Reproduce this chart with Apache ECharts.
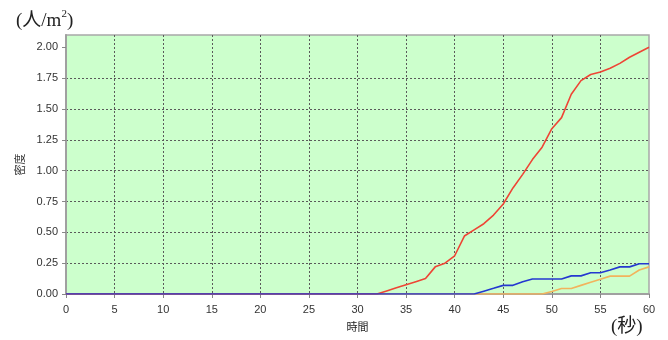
<!DOCTYPE html>
<html>
<head>
<meta charset="utf-8">
<script src="https://cdn.jsdelivr.net/npm/echarts@6/dist/echarts.min.js"></script>
<style>
  html, body { margin: 0; padding: 0; background: #ffffff; }
  #chart { width: 668px; height: 340px; }
</style>
</head>
<body>
<div id="chart"></div>
<script>
// Elapsed time in seconds (x axis)
const seconds = [
  0, 1, 2, 3, 4, 5, 6, 7, 8, 9, 10, 11, 12, 13, 14, 15, 16, 17, 18, 19, 20,
  21, 22, 23, 24, 25, 26, 27, 28, 29, 30, 31, 32, 33, 34, 35, 36, 37, 38, 39, 40,
  41, 42, 43, 44, 45, 46, 47, 48, 49, 50, 51, 52, 53, 54, 55, 56, 57, 58, 59, 60
];

// Crowd density (persons / m²) per second, three measuring areas
const densityRed = [
  0, 0, 0, 0, 0, 0, 0, 0, 0, 0, 0, 0, 0, 0, 0, 0, 0, 0, 0, 0, 0,
  0, 0, 0, 0, 0, 0, 0, 0, 0, 0, 0, 0, 0.025, 0.05, 0.075, 0.1, 0.125, 0.22, 0.25, 0.31,
  0.47, 0.52, 0.57, 0.64, 0.73, 0.86, 0.97, 1.09, 1.19, 1.34, 1.43, 1.62, 1.73, 1.78, 1.80, 1.83, 1.87, 1.92, 1.96, 2.00
];
const densityBlue = [
  0, 0, 0, 0, 0, 0, 0, 0, 0, 0, 0, 0, 0, 0, 0, 0, 0, 0, 0, 0, 0,
  0, 0, 0, 0, 0, 0, 0, 0, 0, 0, 0, 0, 0, 0, 0, 0, 0, 0, 0, 0,
  0, 0, 0.023, 0.046, 0.07, 0.07, 0.1, 0.122, 0.122, 0.122, 0.122, 0.147, 0.147, 0.172, 0.172, 0.195, 0.22, 0.22, 0.245, 0.245
];
const densityOrange = [
  0, 0, 0, 0, 0, 0, 0, 0, 0, 0, 0, 0, 0, 0, 0, 0, 0, 0, 0, 0, 0,
  0, 0, 0, 0, 0, 0, 0, 0, 0, 0, 0, 0, 0, 0, 0, 0, 0, 0, 0, 0,
  0, 0, 0, 0, 0, 0, 0, 0, 0, 0.02, 0.045, 0.045, 0.07, 0.095, 0.12, 0.145, 0.145, 0.145, 0.195, 0.22
];

// Axis tick values
const xTicks = [0, 5, 10, 15, 20, 25, 30, 35, 40, 45, 50, 55, 60];
const yTicks = [0, 0.25, 0.5, 0.75, 1.0, 1.25, 1.5, 1.75, 2.0];

const pairs = (vals) => seconds.map((t, i) => [t, vals[i]]);

const chart = echarts.init(document.getElementById('chart'), null, { renderer: 'canvas' });

const labelFont = { color: '#333333', fontSize: 11, fontFamily: 'Liberation Sans, Arial, sans-serif' };
const gridDash = { color: '#5a5a5a', width: 1, type: [2, 2] };
const axisGray = '#a0a0a0';
const serif = 'Liberation Serif, Noto Sans CJK JP, serif';

chart.setOption({
  animation: false,
  backgroundColor: '#ffffff',
  title: [
    {
      left: 11, top: 4,
      text: '{a|(人/m}{b|2}{a|)}',
      textStyle: {
        fontWeight: 'normal',
        rich: {
          a: { fontSize: 19, fontWeight: 'normal', fontFamily: serif, color: '#222', lineHeight: 24 },
          b: { fontSize: 11, fontWeight: 'normal', fontFamily: serif, color: '#222', verticalAlign: 'top', lineHeight: 24, padding: [0, 0, 12, 0] }
        }
      }
    },
    {
      left: 606, top: 313,
      text: '(秒)',
      textStyle: { fontSize: 19, fontWeight: 'normal', fontFamily: serif, color: '#222' }
    }
  ],
  grid: {
    left: 66, right: 19, top: 35, bottom: 46,
    show: true,
    backgroundColor: '#ccffcc',
    borderColor: '#a8a8a8',
    borderWidth: 1.5
  },
  xAxis: {
    type: 'value',
    min: 0, max: 60, interval: 5,
    offset: 4,
    name: '時間',
    nameLocation: 'middle',
    nameGap: 23,
    nameTextStyle: { fontSize: 11, color: '#222', fontFamily: 'Noto Sans CJK JP, sans-serif' },
    axisLine: { show: true, lineStyle: { color: axisGray, width: 2 } },
    axisTick: { show: true, length: 4, lineStyle: { color: '#888' }, customValues: xTicks },
    axisLabel: Object.assign({ margin: 6, customValues: xTicks }, labelFont),
    splitLine: { show: true, showMaxLine: false, lineStyle: gridDash }
  },
  yAxis: {
    type: 'value',
    min: 0, max: 2.1, interval: 0.25,
    offset: 3,
    name: '密度',
    nameLocation: 'middle',
    nameRotate: 90,
    nameGap: 34,
    nameTextStyle: { fontSize: 11, color: '#333', fontFamily: 'Noto Sans CJK JP, sans-serif' },
    axisLine: { show: true, lineStyle: { color: axisGray, width: 2 } },
    axisTick: { show: true, length: 4, lineStyle: { color: '#888' }, customValues: yTicks },
    axisLabel: Object.assign({
      margin: 5,
      customValues: yTicks,
      formatter: (v) => v.toFixed(2)
    }, labelFont),
    splitLine: { show: true, showMinLine: false, showMaxLine: false, lineStyle: gridDash }
  },
  series: [
    {
      type: 'line', data: pairs(densityOrange), showSymbol: false, symbol: 'none',
      lineStyle: { color: '#f2b35c', width: 1.6 }
    },
    {
      type: 'line', data: pairs(densityRed), showSymbol: false, symbol: 'none',
      lineStyle: { color: '#ee4535', width: 1.6 }
    },
    {
      type: 'line', data: pairs(densityBlue), showSymbol: false, symbol: 'none',
      lineStyle: { color: '#2438d0', width: 1.6 }
    }
  ]
});
</script>
</body>
</html>
